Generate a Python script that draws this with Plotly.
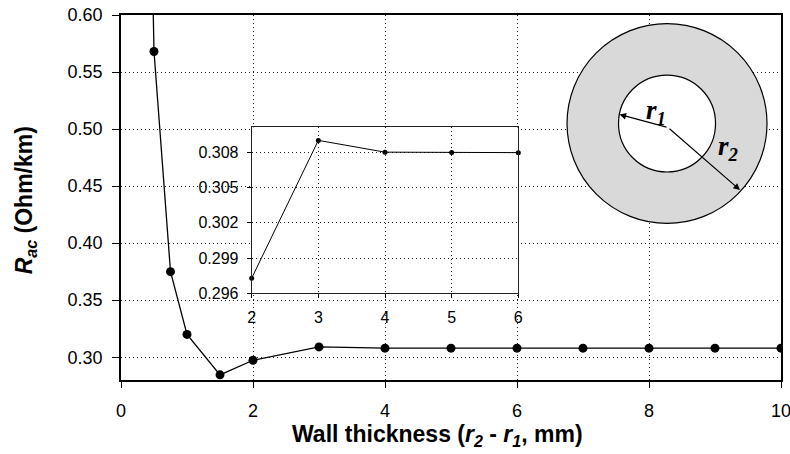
import plotly.graph_objects as go

# ---- data ----
thickness = [0.25, 0.5, 0.75, 1.0, 1.5, 2, 3, 4, 5, 6, 7, 8, 9, 10]
r_ac = [1.30, 0.568, 0.375, 0.320, 0.2845, 0.2973, 0.3090, 0.3079, 0.3079,
        0.3079, 0.3079, 0.3079, 0.3079, 0.3079]

inset_thickness = [2, 3, 4, 5, 6]
inset_r_ac = [0.2973, 0.3090, 0.3080, 0.30797, 0.30796]

main_xticks = [0, 2, 4, 6, 8, 10]
main_yticks = [0.30, 0.35, 0.40, 0.45, 0.50, 0.55, 0.60]
inset_xticks = [2, 3, 4, 5, 6]
inset_yticks = [0.296, 0.299, 0.302, 0.305, 0.308]

FONT = "Arial, Liberation Sans, sans-serif"
GRID = "#222222"
DOT = "1px,3px"

fig = go.Figure()

fig.add_trace(go.Scatter(
    x=thickness, y=r_ac, mode="lines+markers",
    line=dict(color="black", width=1.3),
    marker=dict(color="black", size=9),
    xaxis="x", yaxis="y", showlegend=False,
))

fig.add_trace(go.Scatter(
    x=inset_thickness, y=inset_r_ac, mode="lines+markers",
    line=dict(color="black", width=1),
    marker=dict(color="black", size=5),
    xaxis="x2", yaxis="y2", showlegend=False, cliponaxis=False,
))

fig.update_layout(
    width=790, height=454,
    margin=dict(l=121, r=9, t=15, b=74),
    paper_bgcolor="white", plot_bgcolor="white",
    font=dict(family=FONT, size=18, color="black"),
    xaxis=dict(
        domain=[0, 1], range=[0, 10], tickvals=main_xticks, automargin=False,
        ticklabeloverflow="allow",
        showline=True, linecolor="black", linewidth=1.5, mirror=True,
        ticks="outside", ticklen=6, tickcolor="black", tickwidth=1.2,
        showgrid=True, gridcolor=GRID, gridwidth=1, griddash=DOT,
        zeroline=False, tickfont=dict(size=18), ticklabelstandoff=8,
    ),
    yaxis=dict(
        domain=[0, 1], range=[0.28, 0.60], tickvals=main_yticks, automargin=False,
        tickformat=".2f", ticklabeloverflow="allow",
        showline=True, linecolor="black", linewidth=1.5, mirror=True,
        ticks="outside", ticklen=7, tickcolor="black", tickwidth=1.2,
        showgrid=True, gridcolor=GRID, gridwidth=1, griddash=DOT,
        zeroline=False, tickfont=dict(size=18), ticklabelstandoff=6,
    ),
    xaxis2=dict(
        domain=[0.198, 0.602], range=[2, 6], tickvals=inset_xticks,
        anchor="y2", automargin=False, ticklabeloverflow="allow",
        showline=True, linecolor="#222222", linewidth=1, mirror=True,
        ticks="outside", ticklen=4, tickcolor="black",
        showgrid=True, gridcolor=GRID, gridwidth=1, griddash=DOT,
        zeroline=False, tickfont=dict(size=16), ticklabelstandoff=5,
    ),
    yaxis2=dict(
        domain=[0.237, 0.692], range=[0.296, 0.3101], tickvals=inset_yticks,
        tickformat=".3f", anchor="x2", automargin=False, ticklabeloverflow="allow",
        showline=True, linecolor="#222222", linewidth=1, mirror=True,
        ticks="outside", ticklen=4, tickcolor="black",
        showgrid=True, gridcolor=GRID, gridwidth=1, griddash=DOT,
        zeroline=False, tickfont=dict(size=16), ticklabelstandoff=5,
    ),
)

# axis titles placed as in the reference
fig.add_annotation(
    text="<b>Wall thickness (<i>r</i><sub><i>2</i></sub> - <i>r</i><sub><i>1</i></sub>, mm)</b>",
    xref="paper", yref="paper", x=0.480, y=-0.152, xanchor="center", yanchor="middle",
    showarrow=False, font=dict(size=23, family=FONT),
)
fig.add_annotation(
    text="<b><i>R</i><sub><i>ac</i></sub> (Ohm/km)</b>", textangle=-90,
    xref="paper", yref="paper", x=-0.145, y=0.493, xanchor="center", yanchor="middle",
    showarrow=False, font=dict(size=23, family=FONT),
)

# cross-section diagram (decoration)
cx, cy = 0.8273, 0.7027
fig.add_shape(type="circle", xref="paper", yref="paper",
              x0=cx - 0.1515, x1=cx + 0.1515, y0=cy - 0.2737, y1=cy + 0.2737,
              fillcolor="#d9d9d9", line=dict(color="black", width=1.2), layer="above")
fig.add_shape(type="circle", xref="paper", yref="paper",
              x0=cx - 0.0735, x1=cx + 0.0735, y0=cy - 0.1328, y1=cy + 0.1328,
              fillcolor="white", line=dict(color="black", width=1.2), layer="above")

def paper_xy(px, py):
    return (px - 121) / 660, (380 - py) / 365

tail = (668, 127.5)
for head in [(619.5, 114.5), (740, 190)]:
    hx, hy = paper_xy(*head)
    fig.add_annotation(x=hx, y=hy, xref="paper", yref="paper", text="",
                       showarrow=True, ax=tail[0] - head[0], ay=tail[1] - head[1],
                       arrowhead=2, arrowsize=1.1, arrowwidth=1.2, arrowcolor="black")

SERIF = "Liberation Serif, DejaVu Serif, serif"
for lbl, (px, py) in [("<b><i>r<sub>1</sub></i></b>", (668, 93)),
                      ("<b><i>r<sub>2</sub></i></b>", (741, 148))]:
    lx, ly = paper_xy(px, py)
    fig.add_annotation(x=lx, y=ly, xref="paper", yref="paper", text=lbl,
                       showarrow=False, font=dict(family=SERIF, size=27, color="black"))

fig.write_html("out.html", config={"displayModeBar": False},
               post_script="document.body.style.margin='0';document.body.style.overflow='hidden';")
